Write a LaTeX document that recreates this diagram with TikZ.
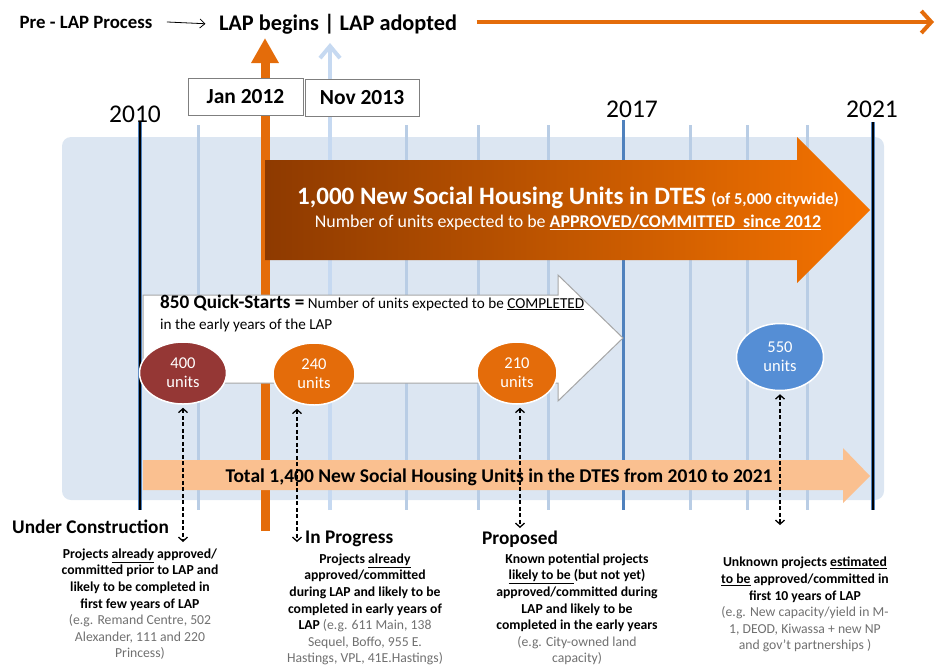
\documentclass[tikz,border=0pt]{standalone}
\usepackage{fontspec}
\setmainfont{Carlito}
\usetikzlibrary{arrows.meta,shapes.geometric}

\definecolor{bgblue}{HTML}{DCE6F2}
\definecolor{tickblue}{HTML}{B9CDE5}
\definecolor{midblue}{HTML}{4F81BD}
\definecolor{lapblue}{HTML}{C6D9F1}
\definecolor{laporange}{HTML}{E46C0A}
\definecolor{darkbrown}{HTML}{8E3A00}
\definecolor{brightorange}{HTML}{F57300}
\definecolor{totalpeach}{HTML}{FAC090}
\definecolor{oldred}{HTML}{953735}
\definecolor{unknownblue}{HTML}{558ED5}
\definecolor{egtext}{HTML}{707070}
\definecolor{boxgray}{HTML}{7F7F7F}

\newcommand{\fsz}[2]{\fontsize{#1}{#2}\selectfont}
\newcommand{\egpart}[1]{{\mdseries\color{egtext}#1}}

\tikzset{
	halfyear/.style={draw=tickblue, line width=3pt},
	datebox/.style={draw=boxgray, fill=white, line width=0.8pt, minimum width=115pt, minimum height=37pt, font=\bfseries\fsz{21.5}{25}},
	yearlabel/.style={anchor=base, font=\fsz{25.5}{30}},
	unitbubble/.style={ellipse, draw=white, line width=1.5pt, text=white, align=center, inner sep=0pt, minimum height=62pt, font=\fsz{16.5}{19}},
	linkarrow/.style={line width=1.3pt, dash pattern=on 4pt off 2.5pt, {Straight Barb[length=4pt,width=9pt]}-{Straight Barb[length=4pt,width=9pt]}, shorten <=3pt},
	stagehead/.style={anchor=base west, inner sep=0pt, font=\bfseries\fsz{19.3}{22}},
	stagedesc/.style={anchor=north, inner sep=0pt, align=center, font=\bfseries\fsz{13.7}{16.6}},
}

\begin{document}
\begin{tikzpicture}[x=1pt, y=-1pt]
	\useasboundingbox (0,0) rectangle (939,665);

	% Background panel
	\fill[bgblue, rounded corners=9pt] (62,137) rectangle (884,500);

	% Half-year ticks and year lines
	\foreach \tx in {198,406,478,548,690,747,807}
		\draw[halfyear] (\tx,125) -- (\tx,510);
	\draw[midblue, line width=3pt] (623,120) -- (623,510);
	\foreach \tx in {140,873} {
		\draw[midblue, line width=3.5pt] (\tx,122) -- (\tx,510);
		\draw[black, line width=1.6pt] (\tx,122) -- (\tx,510);
	}

	% LAP begins / LAP adopted markers
	\coordinate (beginbot) at (265,531);
	\coordinate (begintop) at (265,38);
	\coordinate (adoptbot) at (330,510);
	\coordinate (adopttop) at (330,43);
	\draw[laporange, line width=9pt, -{Triangle[length=25pt,width=26pt]}] (beginbot) -- (begintop);
	\draw[lapblue, line width=4pt, -{Straight Barb[length=12pt,width=20pt]}] (adoptbot) -- (adopttop);

	% Dates and years
	\node[datebox] (jan) at (245.5,96.5) {Jan 2012};
	\node[datebox, minimum width=114pt] (nov) at (362,97.5) {Nov 2013};
	\node[yearlabel] (y2010) at (135,122) {2010};
	\node[yearlabel] (y2017) at (632,117) {2017};
	\node[yearlabel] (y2021) at (872,117) {2021};

	% Process line
	\node[anchor=base, font=\bfseries\fsz{18.8}{22}] (prelap) at (86,28) {Pre - LAP Process};
	\node[anchor=base, font=\bfseries\fsz{22.3}{26}] (lapbeg) at (338,30) {LAP begins | LAP adopted};
	\coordinate (horizon) at (934,22);
	\draw[line width=0.8pt, -{Straight Barb[length=5pt,width=9pt]}] ([xshift=11pt]prelap.east) -- ([xshift=-10pt]lapbeg.west);
	\draw[laporange, line width=4pt, -{Straight Barb[length=10pt,width=22pt]}] ([xshift=16pt]lapbeg.east |- horizon) -- (horizon);

	% 1,000 units arrow
	\shade[left color=darkbrown, right color=brightorange] (265,160) -- (797,160) -- (797,137) -- (870,210) -- (797,283) -- (797,260) -- (265,260) -- cycle;
	\node[anchor=base, text=white, font=\bfseries\fsz{25}{29}] (dtes) at (568,204) {1,000 New Social Housing Units in DTES {\fsz{16.5}{19}(of 5,000 citywide)}};
	\node[anchor=base, text=white, font=\fsz{17.9}{21}] (approved) at (568,227) {Number of units expected to be \textbf{\underline{APPROVED/COMMITTED\ \ since 2012}}};

	% 850 quick-starts arrow
	\draw[draw=gray!70, fill=white, line width=1pt] (143,295) -- (558,295) -- (558,275) -- (623,338) -- (558,401) -- (558,383) -- (143,383) -- cycle;
	\node[anchor=base west, inner sep=0pt, font=\fsz{15.2}{18}] (quick) at (160,308) {{\bfseries\fsz{19.2}{22}850 Quick-Starts =} Number of units expected to be \underline{COMPLETED}};
	\node[anchor=base west, inner sep=0pt, font=\fsz{15.2}{18}] (early) at (160,329) {in the early years of the LAP};

	% Total bar
	\fill[totalpeach] (143,460) -- (843,460) -- (843,448) -- (870,476) -- (843,503) -- (843,490) -- (143,490) -- cycle;
	\node[anchor=base, font=\bfseries\fsz{19.5}{23}] (total) at (499,482) {Total 1,400 New Social Housing Units in the DTES from 2010 to 2021};

	% Unit bubbles
	\node[unitbubble, fill=oldred, minimum width=87pt] (u400) at (183,373) {400\\units};
	\node[unitbubble, fill=laporange, minimum width=82pt] (u240) at (314,374) {240\\units};
	\node[unitbubble, fill=laporange, minimum width=80pt] (u210) at (517,373) {210\\units};
	\node[unitbubble, fill=unknownblue, minimum width=87pt, minimum height=67pt] (u550) at (780,357) {550\\units};

	% Links to stages
	\coordinate (d400) at (183,542);
	\coordinate (d240) at (297,542);
	\coordinate (d210) at (520,528);
	\coordinate (d550) at (780,525);
	\draw[linkarrow] (u400.south) -- (d400);
	\draw[linkarrow] (u240.south -| d240) -- (d240);
	\draw[linkarrow] (u210.south -| d210) -- (d210);
	\draw[linkarrow] (u550.south) -- (d550);

	% Stages
	\node[stagehead] (under) at (12,533) {Under Construction};
	\node[stagedesc] (underdesc) at (140,548.5) {Projects \underline{already} approved/\\committed prior to LAP and\\likely to be completed in\\first few years of LAP\\\egpart{(e.g. Remand Centre, 502}\\\egpart{Alexander, 111 and 220}\\\egpart{Princess)}};
	\node[stagehead] (progress) at (305,543) {In Progress};
	\node[stagedesc] (progressdesc) at (365,553.5) {Projects \underline{already}\\approved/committed\\during LAP and likely to be\\completed in early years of\\LAP \egpart{(e.g. 611 Main, 138}\\\egpart{Sequel, Boffo, 955 E.}\\\egpart{Hastings, VPL, 41E.Hastings)}};
	\node[stagehead] (proposed) at (482,544) {Proposed};
	\node[stagedesc] (proposeddesc) at (577,553.5) {Known potential projects\\\underline{likely to be }(but not yet)\\approved/committed during\\LAP and likely to be\\completed in the early years\\\egpart{(e.g. City-owned land}\\\egpart{capacity)}};
	\node[stagedesc] (unknowndesc) at (805,557) {Unknown projects \underline{estimated}\\\underline{to be} approved/committed in\\first 10 years of LAP\\\egpart{(e.g. New capacity/yield in M-}\\\egpart{1, DEOD, Kiwassa + new NP}\\\egpart{and gov’t partnerships )}};
\end{tikzpicture}
\end{document}
